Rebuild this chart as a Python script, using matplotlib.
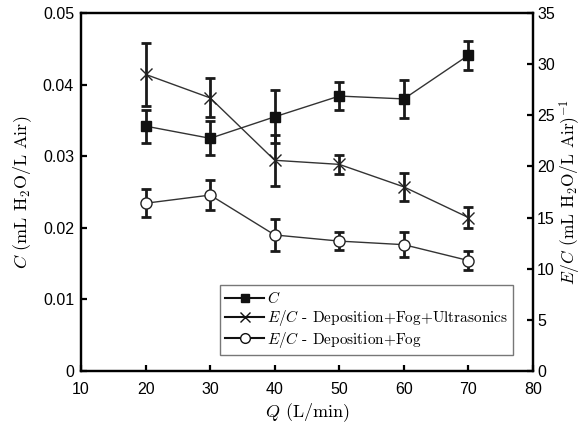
import matplotlib
matplotlib.use("Agg")
import matplotlib.pyplot as plt
from matplotlib.lines import Line2D

# ---- data ------------------------------------------------------------
q = [20, 30, 40, 50, 60, 70]

c_vals = [0.0342, 0.0325, 0.0355, 0.0384, 0.0380, 0.0441]
c_err = [0.0023, 0.0024, 0.0037, 0.0020, 0.0027, 0.0020]

ec_ultra = [29.0, 26.7, 20.6, 20.2, 18.0, 15.0]
ec_ultra_err = [3.1, 1.9, 2.5, 0.9, 1.35, 1.0]

ec_fog = [16.4, 17.2, 13.3, 12.7, 12.35, 10.8]
ec_fog_err = [1.36, 1.45, 1.55, 0.9, 1.2, 0.9]

legend_labels = [
    r"$C$",
    r"$E/C$ - Deposition+Fog+Ultrasonics",
    r"$E/C$ - Deposition+Fog",
]

plt.rcParams["mathtext.fontset"] = "cm"
plt.rcParams["font.family"] = "Liberation Sans"

TXT = dict(family="cmr10")
line_col = "#333333"
bar_col = "#1a1a1a"

fig = plt.figure(figsize=(5.86, 4.28), dpi=100)
ax1 = fig.add_axes([81 / 586, 1 - 371 / 428, (533 - 81) / 586, (371 - 13) / 428])
ax2 = ax1.twinx()

# C on left axis
ax1.errorbar(q, c_vals, yerr=c_err, fmt="none", ecolor=bar_col,
             elinewidth=2, capsize=3.5, capthick=2, zorder=2)
ax1.plot(q, c_vals, color=line_col, lw=1, marker="s", ms=6.5,
         mfc="#111111", mec="#111111", zorder=3)

# E/C on right axis
ax2.errorbar(q, ec_ultra, yerr=ec_ultra_err, fmt="none", ecolor=bar_col,
             elinewidth=2, capsize=3.5, capthick=2, zorder=2)
ax2.plot(q, ec_ultra, color=line_col, lw=1, marker="x", ms=8, mew=1,
         mec="#222222", zorder=3)
ax2.errorbar(q, ec_fog, yerr=ec_fog_err, fmt="none", ecolor=bar_col,
             elinewidth=2, capsize=3.5, capthick=2, zorder=2)
ax2.plot(q, ec_fog, color=line_col, lw=1, marker="o", ms=8, mew=1,
         mfc="white", mec="#222222", zorder=3)

ax1.set_xlim(10, 80)
ax1.set_ylim(0, 0.05)
ax2.set_ylim(0, 35)
ax1.set_xticks(range(10, 81, 10))
ax1.set_yticks([0, 0.01, 0.02, 0.03, 0.04, 0.05])
ax1.set_yticklabels(["0", "0.01", "0.02", "0.03", "0.04", "0.05"])
ax2.set_yticks(range(0, 36, 5))

for ax in (ax1, ax2):
    for sp in ax.spines.values():
        sp.set_linewidth(1.6)
    ax.tick_params(direction="in", length=4, width=1.6, labelsize=11.5)
ax1.tick_params(top=False, right=False)
ax1.tick_params(axis="x", pad=8)
ax1.tick_params(axis="y", pad=5)
ax2.tick_params(axis="y", pad=3)

ax1.set_xlabel(r"$Q$ (L/min)", fontsize=13, labelpad=3, **TXT)
ax1.set_ylabel(r"$C$ (mL H$_2$O/L Air)", fontsize=13, labelpad=6, **TXT)
ax2.set_ylabel(r"$E/C$ (mL H$_2$O/L Air)$^{-1}$", fontsize=12.5, labelpad=2, **TXT)

handles = [
    Line2D([], [], color="#111111", lw=1.5, marker="s", ms=6, mfc="#111111"),
    Line2D([], [], color="#111111", lw=1.5, marker="x", ms=7, mew=1),
    Line2D([], [], color="#111111", lw=1.5, marker="o", ms=7, mfc="white"),
]
leg = ax2.legend(handles, legend_labels, loc="lower right",
                 bbox_to_anchor=(0.956, 0.045), prop=dict(family="cmr10", size=11),
                 fancybox=False, framealpha=1, edgecolor="#777777",
                 borderpad=0.35, labelspacing=0.1, handlelength=2.5,
                 handletextpad=0.2, borderaxespad=0)
leg.get_frame().set_linewidth(1)

fig.savefig("out.png", dpi=100)
